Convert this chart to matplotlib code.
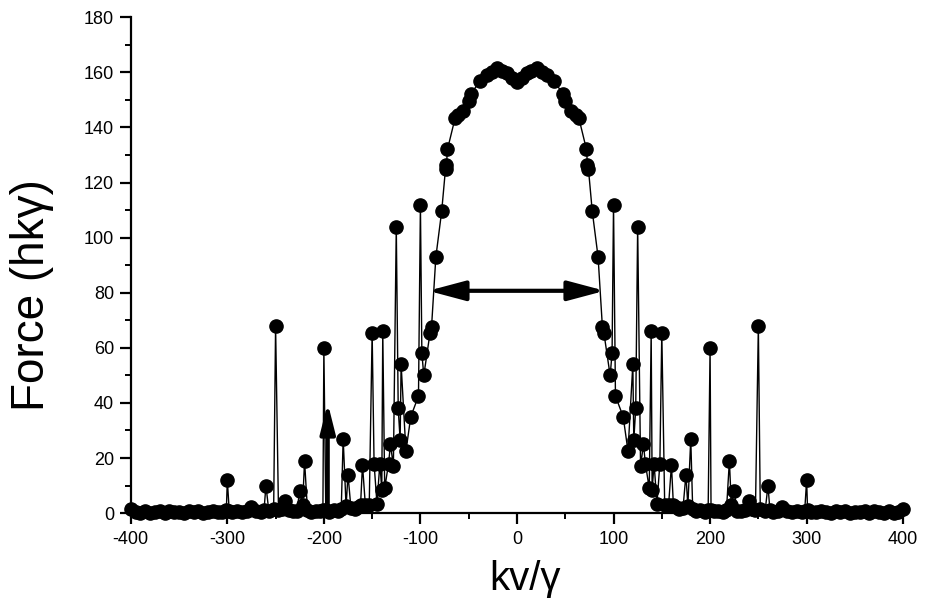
import matplotlib
matplotlib.use("Agg")
import matplotlib.pyplot as plt
from matplotlib.ticker import MultipleLocator

plt.rcParams['font.family'] = ['Liberation Sans', 'DejaVu Sans']
plt.rcParams['axes.unicode_minus'] = False

# ---- data ----
x_left = [-400, -395, -390, -385, -380, -375, -370, -365, -360, -355, -350, -345, -340, -335,
          -330, -325, -320, -315, -310, -305, -301, -300, -298, -295, -290, -285, -280, -275,
          -270, -265, -262, -260, -257, -252, -250, -247, -243, -240, -236, -232, -228, -225,
          -222, -220, -217, -213, -208, -204, -201, -200, -198, -195, -190, -185, -182, -180,
          -177, -175, -172, -168, -165, -162, -160, -157, -153, -150, -148, -145, -142, -140,
          -139, -137, -133, -131, -128, -125, -123, -121, -120, -115, -110, -102, -100, -98.5,
          -96.5, -90, -88.5, -84, -78, -74, -73, -72, -64, -61, -55.5, -50, -48, -38, -31, -26,
          -21, -15, -10, -5, 0]
force_left = [1.5, 0.4, 0.2, 0.8, 0.1, 0.4, 0.6, 0.2, 0.9, 0.3, 0.5, 0.2, 0.8, 0.3,
              0.6, 0.2, 0.4, 0.7, 0.3, 0.5, 1.0, 12, 0.8, 0.4, 0.6, 0.3, 0.9, 2.3,
              0.7, 0.4, 1.0, 10, 0.8, 1.5, 68, 1.2, 1.5, 4.5, 1.0, 0.6, 0.9, 8,
              3, 19, 1.2, 0.5, 0.8, 0.6, 1.0, 60, 1.0, 0.4, 1.2, 0.8, 1.5, 27,
              2.5, 14, 2.0, 1.5, 2.2, 3.0, 17.5, 2.8, 3.0, 65.5, 18, 3.4, 18, 8.5,
              66, 9, 18, 25, 17, 104, 38, 26.5, 54, 22.5, 35, 42.5, 112, 58,
              50, 65.5, 67.5, 93, 109.5, 125, 126.5, 132, 143.5, 144.5, 146, 149.5, 152, 157, 159, 160,
              161.5, 160.5, 159.7, 158, 156.5]

x_right = [5, 10, 15, 21, 26, 31, 38, 48, 50, 55.5, 61, 64, 72, 73, 74, 78, 84, 88.5, 90,
           96.5, 98.5, 100, 102, 110, 115, 120, 121, 123, 125, 128, 131, 133, 137, 139, 140,
           142, 145, 148, 150, 153, 157, 160, 162, 165, 168, 172, 175, 177, 180, 182, 185, 190,
           195, 198, 200, 201, 204, 208, 213, 217, 220, 222, 225, 228, 232, 236, 240, 243, 247,
           250, 252, 257, 260, 262, 265, 270, 275, 280, 285, 290, 295, 298, 300, 301, 305, 310,
           315, 320, 325, 330, 335, 340, 345, 350, 355, 360, 365, 370, 375, 380, 385, 390, 395, 400]
force_right = [158, 159.7, 160.5, 161.5, 160, 159, 157, 152, 149.5, 146, 144.5, 143.5, 132, 126.5,
               125, 109.5, 93, 67.5, 65.5, 50, 58, 112, 42.5, 35, 22.5, 54, 26.5, 38, 104, 17,
               25, 18, 9, 66, 8.5, 18, 3.4, 18, 65.5, 3.0, 2.8, 17.5, 3.0, 2.2, 1.5, 2.0, 14,
               2.5, 27, 1.5, 0.8, 1.2, 0.4, 1.0, 60, 1.0, 0.6, 0.8, 0.5, 1.2, 19, 3, 8, 0.9,
               0.6, 1.0, 4.5, 1.5, 1.2, 68, 1.5, 0.8, 10, 1.0, 0.4, 0.7, 2.3, 0.9, 0.3, 0.6,
               0.4, 0.8, 12, 1.0, 0.5, 0.3, 0.7, 0.4, 0.2, 0.6, 0.3, 0.8, 0.2, 0.5, 0.3, 0.9,
               0.2, 0.6, 0.4, 0.1, 0.8, 0.2, 0.4, 1.5]

x_vals = x_left + x_right
force = force_left + force_right

# annotations
width_arrow_x = [-92, 91]
width_arrow_y = 80.7
marker_arrow_x = -196
marker_arrow_y = [0, 40]

x_ticks = [-400, -300, -200, -100, 0, 100, 200, 300, 400]
y_ticks = [0, 20, 40, 60, 80, 100, 120, 140, 160, 180]

# ---- figure ----
fig = plt.figure(figsize=(9.34, 6.03), dpi=100)
ax = fig.add_axes([0.140, 0.149, 0.827, 0.8225])

ax.plot(x_vals, force, color='black', lw=1.0, marker='o', markersize=9.5,
        markerfacecolor='black', markeredgecolor='black', clip_on=False, zorder=3)

ax.annotate('', xy=(width_arrow_x[0], width_arrow_y), xytext=(width_arrow_x[1], width_arrow_y),
            arrowprops=dict(arrowstyle='<|-|>,head_length=1.5,head_width=0.4',
                            mutation_scale=15, lw=3, color='black',
                            shrinkA=0, shrinkB=0), zorder=4)
ax.annotate('', xy=(marker_arrow_x, marker_arrow_y[1]), xytext=(marker_arrow_x, marker_arrow_y[0]),
            arrowprops=dict(arrowstyle='-|>,head_length=1.2,head_width=0.3',
                            mutation_scale=15, lw=3, color='black',
                            shrinkA=0, shrinkB=0), zorder=4)

ax.set_xlim(-400, 400)
ax.set_ylim(0, 180)
ax.set_xticks(x_ticks)
ax.set_yticks(y_ticks)
ax.xaxis.set_minor_locator(MultipleLocator(50))
ax.yaxis.set_minor_locator(MultipleLocator(10))

for s in ['top', 'right']:
    ax.spines[s].set_visible(False)
for s in ['left', 'bottom']:
    ax.spines[s].set_linewidth(1.6)

ax.tick_params(which='major', direction='out', length=8, width=1.6, labelsize=13, pad=4)
ax.tick_params(which='minor', direction='out', length=4, width=1.4)
ax.tick_params(axis='x', which='major', pad=5)

ax.set_ylabel('Force (hkγ)', fontsize=33)
ax.yaxis.set_label_coords(-0.1, 0.44)
ax.set_xlabel('kv/γ', fontsize=29, va='top')
ax.xaxis.set_label_coords(0.51, -0.095)

fig.savefig('out.png', dpi=100)
